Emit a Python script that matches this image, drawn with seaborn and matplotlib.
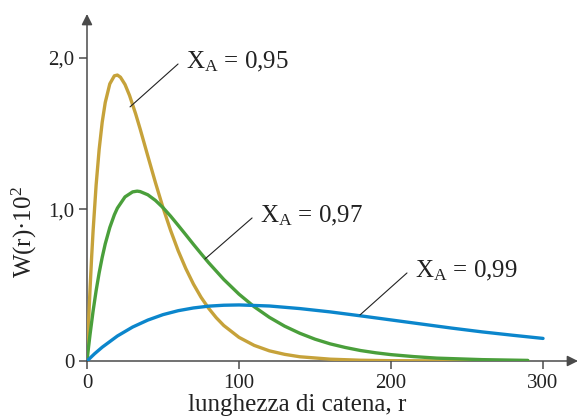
import matplotlib
matplotlib.use("Agg")
import matplotlib.pyplot as plt
import seaborn as sns
import pandas as pd

# ---- data (W(r)*10^2) ----
r95 = [0, 1, 2, 3, 4, 6, 8, 10, 12, 15, 18, 20, 22, 25, 28, 32, 35, 40, 45, 50,
       55, 60, 65, 70, 75, 80, 85, 90, 100, 110, 120, 130, 140, 160, 180, 200,
       250, 290]
w95 = [0, 0.250, 0.475, 0.677, 0.857, 1.161, 1.397, 1.576, 1.706, 1.829, 1.882,
       1.887, 1.873, 1.825, 1.752, 1.631, 1.530, 1.353, 1.178, 1.012, 0.862,
       0.727, 0.610, 0.508, 0.421, 0.348, 0.286, 0.234, 0.156, 0.103, 0.067,
       0.044, 0.028, 0.012, 0.005, 0.002, 0.000, 0.000]

r97 = [0, 1, 2, 4, 6, 8, 10, 12, 15, 18, 20, 25, 30, 33, 35, 40, 45, 50, 55, 60,
       65, 70, 75, 80, 90, 100, 110, 120, 130, 140, 150, 160, 170, 180, 190, 200,
       215, 230, 260, 290]
w97 = [0, 0.090, 0.175, 0.329, 0.464, 0.582, 0.684, 0.773, 0.881, 0.965, 1.009,
       1.083, 1.116, 1.121, 1.118, 1.097, 1.060, 1.012, 0.956, 0.895, 0.833,
       0.770, 0.709, 0.649, 0.538, 0.441, 0.358, 0.288, 0.230, 0.183, 0.144,
       0.113, 0.089, 0.069, 0.054, 0.042, 0.029, 0.019, 0.009, 0.004]

r99 = [0, 5, 10, 20, 30, 40, 50, 60, 70, 80, 90, 100, 120, 140, 160, 180, 200,
       220, 240, 260, 280, 300]
w99 = [0, 0.048, 0.091, 0.165, 0.224, 0.270, 0.306, 0.332, 0.350, 0.362, 0.368,
       0.370, 0.363, 0.346, 0.324, 0.298, 0.271, 0.244, 0.217, 0.192, 0.170, 0.149]

labels = ["0,95", "0,97", "0,99"]
x_ticks = [0, 100, 200, 300]
x_ticklabels = ["0", "100", "200", "300"]
y_ticks = [0, 1.0, 2.0]
y_ticklabels = ["0", "1,0", "2,0"]

sns.set_style("white")
plt.rcParams["font.family"] = ["Liberation Serif", "DejaVu Serif"]
plt.rcParams["mathtext.fontset"] = "custom"
plt.rcParams["mathtext.rm"] = "Liberation Serif"
plt.rcParams["mathtext.it"] = "Liberation Serif:italic"

fig = plt.figure(figsize=(5.8, 4.18), dpi=100)
ax = fig.add_axes([87 / 580, 1 - 361 / 418, (578 - 87) / 580, (361 - 14) / 418])
ax.set_facecolor("none")

df95 = pd.DataFrame({"r": r95, "w": w95})
df97 = pd.DataFrame({"r": r97, "w": w97})
df99 = pd.DataFrame({"r": r99, "w": w99})

sns.lineplot(data=df95, x="r", y="w", ax=ax, color="#C6A23A", lw=2.4, zorder=3)
sns.lineplot(data=df97, x="r", y="w", ax=ax, color="#4A9F3B", lw=2.4, zorder=4)
sns.lineplot(data=df99, x="r", y="w", ax=ax, color="#0B86CC", lw=2.4, zorder=5)

ax.set_xlim(0, 323)
ax.set_ylim(0, 2.29)

for s in ax.spines.values():
    s.set_visible(False)
axc = "#4a4a4a"
ax.annotate("", xy=(1, 0), xytext=(0, 0), xycoords="axes fraction",
            arrowprops=dict(arrowstyle="-|>", color=axc, lw=1.1,
                            mutation_scale=16, shrinkA=0, shrinkB=0), zorder=2)
ax.annotate("", xy=(0, 1), xytext=(0, 0), xycoords="axes fraction",
            arrowprops=dict(arrowstyle="-|>", color=axc, lw=1.1,
                            mutation_scale=16, shrinkA=0, shrinkB=0), zorder=2)

ax.set_xticks(x_ticks)
ax.set_xticklabels(x_ticklabels)
ax.set_yticks(y_ticks)
ax.set_yticklabels(y_ticklabels)
ax.tick_params(axis="both", direction="out", length=6, width=1.1, color=axc,
               labelsize=15, pad=3, labelcolor="#222222")
ax.tick_params(left=True, bottom=True)
ax.set_xlabel("")
ax.set_ylabel("")

# annotations
ann = [
    (labels[0], 65.1, 1.934, (59.9, 1.96), (28.3, 1.677)),
    (labels[1], 113.8, 0.917, (108.6, 0.944), (77.6, 0.673)),
    (labels[2], 215.8, 0.554, (210.5, 0.581), (179.6, 0.304)),
]
for lab, tx, ty, p0, p1 in ann:
    ax.text(tx, ty, r"X$_{\mathrm{A}}$ = " + lab, fontsize=18, va="baseline",
            ha="left", color="#222222")
    ax.plot([p0[0], p1[0]], [p0[1], p1[1]], color="#222222", lw=0.8, zorder=6)

fig.text(24 / 580, 1 - 232 / 418, r"W(r)·10$^{2}$", rotation=90, ha="center",
         va="center", fontsize=18, color="#222222")
fig.text(297 / 580, 1 - 411 / 418, "lunghezza di catena, r", ha="center",
         va="baseline", fontsize=18, color="#222222")

fig.savefig("out.png", dpi=100)
